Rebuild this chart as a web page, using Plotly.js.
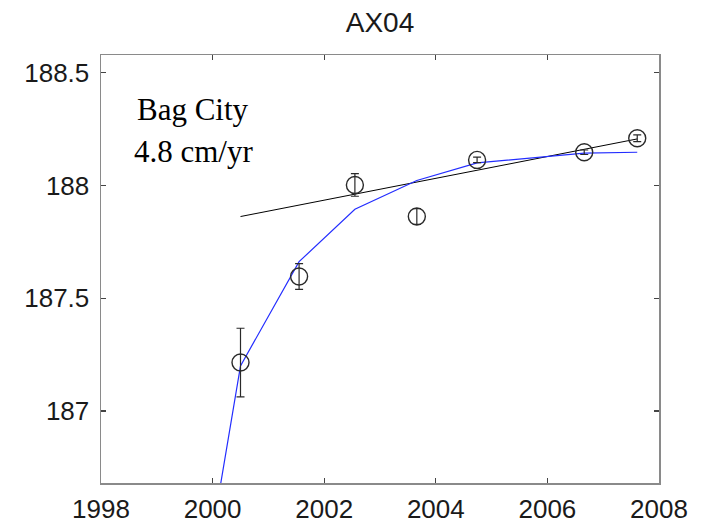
<!DOCTYPE html>
<html>
<head>
<meta charset="utf-8">
<script src="https://cdn.plot.ly/plotly-3.0.1.min.js"></script>
<style>
  html, body { margin: 0; padding: 0; background: #fff; }
  #chart { width: 713px; height: 525px; }
</style>
</head>
<body>
<div id="chart"></div>
<script>
// GPS station AX04: observed heights (m) with 1-sigma errors
const epochs  = [2000.50, 2001.55, 2002.55, 2003.66, 2004.74, 2006.66, 2007.61];
const heights = [187.215, 187.596, 188.002, 187.862, 188.113, 188.147, 188.209];
const errors  = [0.152, 0.057, 0.050, 0.035, 0.012, 0.010, 0.015];

// Linear trend fit (4.8 cm/yr)
const fitYears   = [2000.50, 2007.61];
const fitHeights = [187.862, 188.206];

// Decaying uplift model
const modelYears   = [2000.00, 2000.50, 2001.55, 2002.55, 2003.66, 2004.74, 2006.66, 2007.61];
const modelHeights = [186.465, 187.200, 187.662, 187.894, 188.022, 188.100, 188.143, 188.147];

// Axis ticks
const xTicks = [1998, 2000, 2002, 2004, 2006, 2008];
const yTicks = [187, 187.5, 188, 188.5];
const yTickText = ['187', '187.5', '188', '188.5'];

const stationName = 'AX04';
const siteLabel = 'Bag City';
const rateLabel = '4.8 cm/yr';

const traces = [
  {
    x: fitYears, y: fitHeights, mode: 'lines', type: 'scatter',
    line: { color: '#000000', width: 1 }, hoverinfo: 'skip'
  },
  {
    x: modelYears, y: modelHeights, mode: 'lines', type: 'scatter',
    line: { color: 'rgb(35,45,255)', width: 1.2 }, hoverinfo: 'skip'
  },
  {
    x: epochs, y: heights, mode: 'markers', type: 'scatter',
    marker: { symbol: 'circle-open', size: 17, color: '#2a2a2a', line: { width: 1.4, color: '#2a2a2a' } },
    error_y: { type: 'data', array: errors, visible: true, color: '#2a2a2a', thickness: 1.2, width: 4 }
  }
];

const axisCommon = {
  showgrid: false, zeroline: false,
  showline: true, linecolor: '#8a8a8a', linewidth: 1.5, mirror: 'ticks',
  ticks: 'inside', ticklen: 5, tickwidth: 1.2, tickcolor: '#444',
  tickfont: { family: 'Liberation Sans, Arial, sans-serif', size: 26, color: '#1a1a1a' }
};

const layout = {
  width: 713, height: 525,
  margin: { l: 101, r: 54, t: 55, b: 42 },
  paper_bgcolor: '#ffffff', plot_bgcolor: '#ffffff',
  showlegend: false,
  title: {
    text: stationName,
    font: { family: 'Liberation Sans, Arial, sans-serif', size: 28, color: '#1a1a1a' },
    x: 380 / 713, xanchor: 'center', xref: 'container',
    y: 1 - 22.5 / 525, yanchor: 'middle', yref: 'container'
  },
  xaxis: Object.assign({}, axisCommon, {
    range: [1998, 2008], tickmode: 'array', tickvals: xTicks,
    ticktext: xTicks.map(String), ticklabelstandoff: 2
  }),
  yaxis: Object.assign({}, axisCommon, {
    range: [186.681, 188.578], tickmode: 'array', tickvals: yTicks,
    ticktext: yTickText, ticklabelstandoff: 5
  }),
  annotations: [
    {
      text: siteLabel, xref: 'paper', yref: 'paper', x: 0.1649, y: 0.8715,
      xanchor: 'center', yanchor: 'middle', showarrow: false,
      font: { family: 'Liberation Serif, Times New Roman, serif', size: 31, color: '#000' }
    },
    {
      text: rateLabel, xref: 'paper', yref: 'paper', x: 0.1649, y: 0.7734,
      xanchor: 'center', yanchor: 'middle', showarrow: false,
      font: { family: 'Liberation Serif, Times New Roman, serif', size: 31, color: '#000' }
    }
  ]
};

Plotly.newPlot('chart', traces, layout, { displayModeBar: false, staticPlot: true });
</script>
</body>
</html>
